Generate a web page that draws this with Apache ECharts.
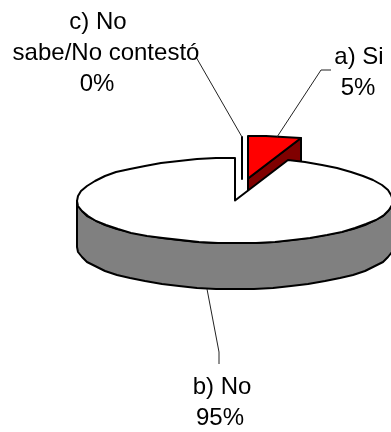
<!DOCTYPE html>
<html>
<head>
<meta charset="utf-8">
<style>html,body{margin:0;padding:0;background:#fff}#c{width:391px;height:432px}</style>
<script src="https://cdn.jsdelivr.net/npm/echarts@6/dist/echarts.min.js"></script>
</head>
<body>
<div id="c"></div>
<script>
// Data (the 5% wedge spans about 19.5 degrees)
var labelLines = [['a) Si'], ['b) No'], ['c) No', 'sabe/No contestó']];
var values = [5.4, 94.6, 0];

// Styling and layout of the projected pie
var RX = 158, RY = 42.5, DEPTH = 46;
var centers = [[248, 178.5], [235, 200.5], [242, 179]];
var topFill = ['#ff0000', '#ffffff', '#ffffff'];
var sideFill = ['#800000', '#808080', '#ffffff'];
var layer = [2, 4, 1];
var labelY = [45, 375, 10];
var labelX = [[359, 358], [222, 220], [98, 106, 97]];
var LINE_H = 31;
var leaders = [
  [[331, 70], [321, 70], [277, 137]],
  [[207, 289], [219, 352], [219, 364]],
  [[196, 57], [242, 137]]
];
var total = values.reduce(function (a, b) { return a + b; }, 0);
var STEP = 7;

function pt(c, deg, dz) {
  var r = deg * Math.PI / 180;
  return [Math.round(c[0] + RX * Math.sin(r)), Math.round(c[1] - RY * Math.cos(r) + (dz || 0))];
}
function arc(c, a0, a1, dz) {
  var out = [], n = Math.max(1, Math.ceil(Math.abs(a1 - a0) / STEP));
  for (var i = 0; i <= n; i++) out.push(pt(c, a0 + (a1 - a0) * i / n, dz));
  return out;
}
function poly(points, fill, z) {
  return { type: 'polygon', z2: z, shape: { points: points },
    style: { fill: fill, stroke: '#000', lineWidth: 2, lineJoin: 'round' } };
}

function renderItem(params, api) {
  var i = params.dataIndex, before = 0;
  for (var k = 0; k < i; k++) before += values[k];
  var v = api.value(0);
  var a0 = before / total * 360, a1 = (before + v) / total * 360;
  var c = centers[i], z = layer[i] * 2, kids = [];

  // front-facing rim between 90 and 270 degrees
  var s0 = Math.max(a0, 90), s1 = Math.min(a1, 270);
  if (s1 > s0) {
    kids.push(poly(arc(c, s0, s1, 0).concat(arc(c, s1, s0, DEPTH)), sideFill[i], z));
  }
  // visible cut face
  if (a1 < 90) {
    var rim = pt(c, a1), rimLow = pt(c, a1, DEPTH);
    kids.push(poly([[c[0], c[1]], rim, rimLow, [c[0], c[1] + DEPTH]], sideFill[i], z));
  }
  // top face
  kids.push(poly([[c[0], c[1]]].concat(arc(c, a0, a1, 0)), topFill[i], z + 1));

  // leader line
  kids.push({ type: 'polyline', z2: 20, shape: { points: leaders[i] },
    style: { fill: null, stroke: '#222', lineWidth: 1 } });

  // label text, one element per line
  var lines = labelLines[i].concat([Math.round(v / total * 100) + '%']);
  lines.forEach(function (line, n) {
    kids.push({ type: 'text', z2: 21, x: labelX[i][n], y: labelY[i] + n * LINE_H,
      style: { text: line, fill: '#000',
        font: '24px "Liberation Sans", Arial, sans-serif',
        align: 'center', verticalAlign: 'top' } });
  });
  return { type: 'group', children: kids };
}

var chart = echarts.init(document.getElementById('c'), null, { renderer: 'canvas' });
chart.setOption({
  animation: false,
  backgroundColor: '#fff',
  series: [{
    type: 'custom',
    coordinateSystem: 'none',
    renderItem: renderItem,
    data: values.map(function (v) { return [v]; }),
    silent: true
  }]
});
</script>
</body>
</html>
